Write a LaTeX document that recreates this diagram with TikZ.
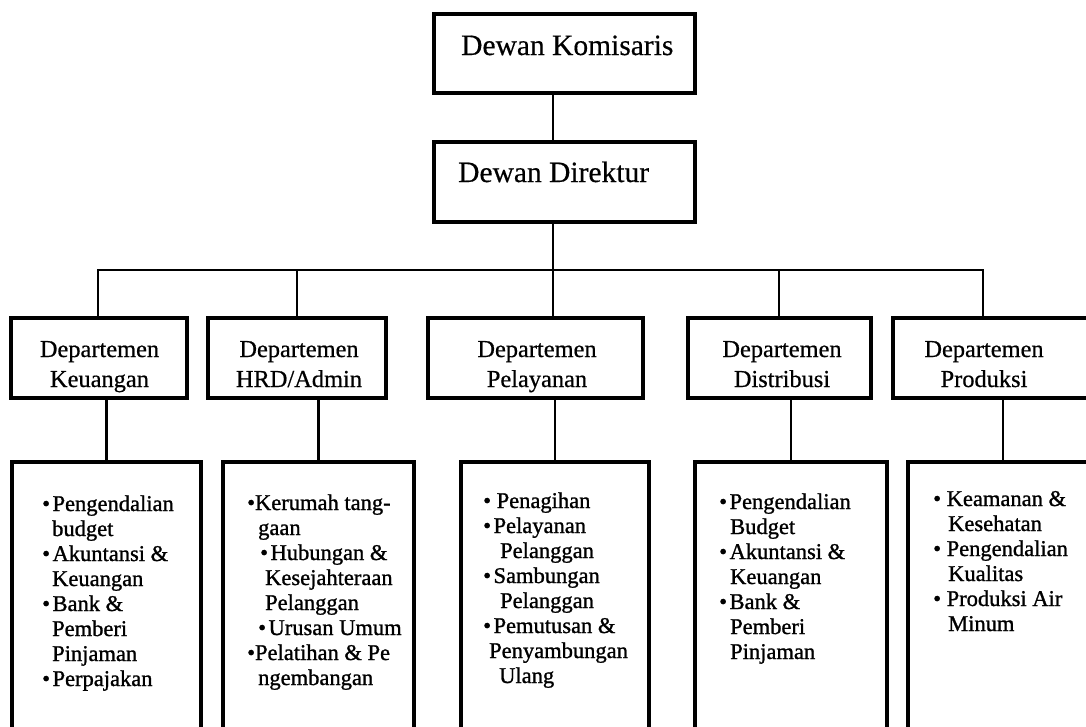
\documentclass[tikz,border=0pt]{standalone}
\usepackage{fontspec}
\setmainfont{Liberation Serif}
\newfontfamily\topfont[FakeBold=0.4]{Liberation Serif}
\newfontfamily\deptfont[FakeBold=0.6]{Liberation Serif}
\newfontfamily\listfont[FakeBold=1.1]{Liberation Serif}
% bullet followed by a narrow gap
\newcommand\bul{\textbullet\hspace{2.5pt}}
\begin{document}
\begin{tikzpicture}[x=1pt,y=-1pt,
  box/.style={draw,rectangle,line width=3.1pt,inner sep=0pt,outer sep=0pt},
  link/.style={line width=2.6pt},
  toptext/.style={font=\topfont\fontsize{29.5}{34}\selectfont,inner sep=0pt,anchor=base west},
  depttext/.style={font=\deptfont\fontsize{24.4}{30}\selectfont,inner sep=0pt,anchor=base},
  listtext/.style={font=\listfont\fontsize{22.5}{25}\selectfont,inner sep=0pt,anchor=base west}]
\useasboundingbox (0,0) rectangle (1086,726);
\clip (0,0) rectangle (1086,726);

% board boxes
\node[box,minimum width=261pt,minimum height=79pt] (kom) at (564.5,53.5) {};
\node[box,minimum width=261pt,minimum height=80pt] (dir) at (564.5,182) {};
\node[toptext] (komtxt) at (461,55) {Dewan Komisaris};
\node[toptext] (dirtxt) at (458,182) {Dewan Direktur};

% department boxes
\node[box,minimum width=176pt,minimum height=80pt] (d1) at (99,358) {};
\node[box,minimum width=178pt,minimum height=80pt] (d2) at (297,358) {};
\node[box,minimum width=215pt,minimum height=80pt] (d3) at (535.5,358) {};
\node[box,minimum width=183pt,minimum height=80pt] (d4) at (779.5,358) {};
\node[box,minimum width=202pt,minimum height=80pt] (d5) at (994,358) {};

\node[depttext] (dt1) at (99.5,357) {\begin{tabular}[t]{@{}c@{}}Departemen\\Keuangan\end{tabular}};
\node[depttext] (dt2) at (299,357) {\begin{tabular}[t]{@{}c@{}}Departemen\\HRD/Admin\end{tabular}};
\node[depttext] (dt3) at (537,357) {\begin{tabular}[t]{@{}c@{}}Departemen\\Pelayanan\end{tabular}};
\node[depttext] (dt4) at (782,357) {\begin{tabular}[t]{@{}c@{}}Departemen\\Distribusi\end{tabular}};
\node[depttext] (dt5) at (984,357) {\begin{tabular}[t]{@{}c@{}}Departemen\\Produksi\end{tabular}};

% task boxes (running past the lower edge)
\node[box,minimum width=189pt,minimum height=278pt] (b1) at (106.5,601) {};
\node[box,minimum width=191pt,minimum height=278pt] (b2) at (318.5,601) {};
\node[box,minimum width=188pt,minimum height=278pt] (b3) at (555,601) {};
\node[box,minimum width=192pt,minimum height=278pt] (b4) at (791,601) {};
\node[box,minimum width=190pt,minimum height=278pt] (b5) at (1003,601) {};

\node[listtext] (bt1) at (42,511) {\begin{tabular}[t]{@{}l@{}}
\bul Pengendalian\\
\hspace*{10pt}budget\\
\bul Akuntansi \&\\
\hspace*{10pt}Keuangan\\
\bul Bank \&\\
\hspace*{10pt}Pemberi\\
\hspace*{10pt}Pinjaman\\
\bul Perpajakan
\end{tabular}};

\node[listtext] (bt2) at (247,510) {\begin{tabular}[t]{@{}l@{}}
\textbullet Kerumah tang-\\
\hspace*{11pt}gaan\\
\hspace*{13pt}\bul Hubungan \&\\
\hspace*{18pt}Kesejahteraan\\
\hspace*{18pt}Pelanggan\\
\hspace*{11pt}\bul Urusan Umum\\
\textbullet Pelatihan \& Pe\\
\hspace*{11pt}ngembangan
\end{tabular}};

\node[listtext] (bt3) at (483,508) {\begin{tabular}[t]{@{}l@{}}
\textbullet{} Penagihan\\
\bul Pelayanan\\
\hspace*{17pt}Pelanggan\\
\bul Sambungan\\
\hspace*{17pt}Pelanggan\\
\bul Pemutusan \&\\
\hspace*{6pt}Penyambungan\\
\hspace*{16pt}Ulang
\end{tabular}};

\node[listtext] (bt4) at (719,509) {\begin{tabular}[t]{@{}l@{}}
\bul Pengendalian\\
\hspace*{11pt}Budget\\
\bul Akuntansi \&\\
\hspace*{11pt}Keuangan\\
\bul Bank \&\\
\hspace*{11pt}Pemberi\\
\hspace*{11pt}Pinjaman
\end{tabular}};

\node[listtext] (bt5) at (933,506) {\begin{tabular}[t]{@{}l@{}}
\textbullet{} Keamanan \&\\
\hspace*{15pt}Kesehatan\\
\textbullet{} Pengendalian\\
\hspace*{15pt}Kualitas\\
\textbullet{} Produksi Air\\
\hspace*{15pt}Minum
\end{tabular}};

% connectors
\coordinate (trunk) at (553,270);
\coordinate (busL) at (98,270);
\coordinate (bus2) at (297,270);
\coordinate (bus4) at (779,270);
\coordinate (busR) at (983,270);

\draw[link] (kom.south -| trunk) -- (dir.north -| trunk);
\draw[link] (dir.south -| trunk) -- (trunk);
\draw[link,line cap=rect] (busL) -- (busR);
\draw[link] (busL) -- (busL |- d1.north);
\draw[link] (bus2) -- (bus2 |- d2.north);
\draw[link] (trunk) -- (trunk |- d3.north);
\draw[link] (bus4) -- (bus4 |- d4.north);
\draw[link] (busR) -- (busR |- d5.north);

\draw[link] (b1.north |- d1.south) -- (b1.north);
\draw[link] (b2.north |- d2.south) -- (b2.north);
\draw[link] (b3.north |- d3.south) -- (b3.north);
\draw[link] (b4.north |- d4.south) -- (b4.north);
\draw[link] (b5.north |- d5.south) -- (b5.north);
\end{tikzpicture}
\end{document}
